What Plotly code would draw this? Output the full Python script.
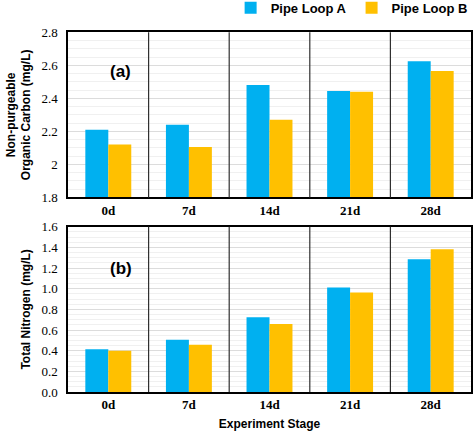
import plotly.graph_objects as go
from plotly.subplots import make_subplots

stages = ["0d", "7d", "14d", "21d", "28d"]
npoc_a = [2.21, 2.24, 2.48, 2.445, 2.625]
npoc_b = [2.12, 2.105, 2.27, 2.44, 2.565]
tn_a = [0.415, 0.507, 0.724, 1.013, 1.285]
tn_b = [0.40, 0.457, 0.658, 0.964, 1.382]

blue = "#00B0F0"
yellow = "#FFC000"
serif = "Liberation Serif"
sans = "Liberation Sans"

fig = make_subplots(rows=2, cols=1, vertical_spacing=0.08)

fig.add_trace(go.Bar(x=stages, y=npoc_a, name="<b>Pipe Loop A</b>", marker_color=blue,
                     marker_line_width=0, legendgroup="A"), row=1, col=1)
fig.add_trace(go.Bar(x=stages, y=npoc_b, name="<b>Pipe Loop B</b>", marker_color=yellow,
                     marker_line_width=0, legendgroup="B"), row=1, col=1)
fig.add_trace(go.Bar(x=stages, y=tn_a, name="Pipe Loop A", marker_color=blue,
                     marker_line_width=0, legendgroup="A", showlegend=False), row=2, col=1)
fig.add_trace(go.Bar(x=stages, y=tn_b, name="Pipe Loop B", marker_color=yellow,
                     marker_line_width=0, legendgroup="B", showlegend=False), row=2, col=1)

xaxis_style = dict(showline=True, linecolor="black", linewidth=1.5, mirror=True,
                   ticks="", showgrid=False,
                   tickfont=dict(family=serif, size=13, color="black", weight="bold"))
fig.update_xaxes(**xaxis_style)
fig.update_xaxes(domain=[0, 1])

yaxis_style = dict(showline=True, linecolor="black", linewidth=1.5, mirror=True,
                   ticks="", gridcolor="#dcdcdc", gridwidth=1, zeroline=False,
                   ticklabelstandoff=6,
                   tickfont=dict(family=serif, size=13, color="black"),
                   minor=dict(showgrid=True, gridcolor="#f0f0f0", nticks=4))
fig.update_yaxes(**yaxis_style)
fig.update_yaxes(range=[1.8, 2.8], dtick=0.2, domain=[0.5408, 1],
                 title=dict(text="Non-purgeable<br>Organic Carbon (mg/L)", standoff=8,
                            font=dict(family=sans, size=12, color="black", weight="bold")),
                 row=1, col=1)
fig.update_yaxes(range=[0, 1.6], dtick=0.2, tickformat=".1f", domain=[0, 0.4592],
                 title=dict(text="Total Nitrogen (mg/L)", standoff=8,
                            font=dict(family=sans, size=12, color="black", weight="bold")),
                 row=2, col=1)
fig.update_xaxes(title=dict(text="Experiment Stage", standoff=8,
                            font=dict(family=sans, size=12, color="black", weight="bold")),
                 row=2, col=1)

# stage dividers
for ax, yr in (("x", "y domain"), ("x2", "y2 domain")):
    for k in range(len(stages) - 1):
        fig.add_shape(type="line", xref=ax, yref=yr, x0=k + 0.5, x1=k + 0.5, y0=0, y1=1,
                      line=dict(color="#303030", width=1.2))

fig.add_annotation(text="(a)", xref="x domain", yref="y domain", x=0.1, y=0.83,
                   showarrow=False, font=dict(family=sans, size=17, color="black", weight="bold"))
fig.add_annotation(text="(b)", xref="x2 domain", yref="y2 domain", x=0.1, y=0.82,
                   showarrow=False, font=dict(family=sans, size=17, color="black", weight="bold"))

fig.update_layout(
    width=475, height=434,
    margin=dict(l=68, r=2, t=24, b=42),
    barmode="group", bargap=0.43, bargroupgap=0,
    plot_bgcolor="white", paper_bgcolor="white",
    legend=dict(orientation="h", xref="container", yref="container",
                x=0.995, xanchor="right", y=0.982, yanchor="middle",
                font=dict(family=sans, size=13, color="black"),
                bgcolor="rgba(0,0,0,0)"),
)

fig.write_html("out.html", config={"displayModeBar": False},
               post_script="document.body.style.margin='0';")
